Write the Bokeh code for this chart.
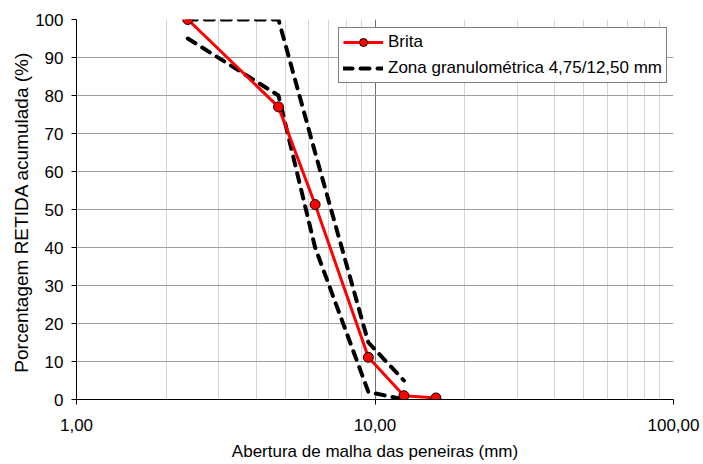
from bokeh.plotting import figure
from bokeh.models import Range1d, FixedTicker, Legend, LegendItem
from bokeh.embed import file_html
from bokeh.resources import INLINE

# ---- data ----
sieve_brita = [2.36, 4.75, 6.3, 9.5, 12.5, 16.0]
retida_brita = [100, 77, 51.3, 11.1, 1.0, 0.4]
zona_sieve = [2.36, 4.75, 6.3, 9.5, 12.5]
zona_sup = [100, 100, 65, 15, 5]
zona_inf = [95, 80, 40, 2, 0]
x_major_ticks = [1, 10, 100]
x_minor_ticks = [2, 3, 4, 5, 6, 7, 8, 9, 20, 30, 40, 50, 60, 70, 80, 90]
x_tick_labels = ["1,00", "10,00", "100,00"]
y_ticks = [0, 10, 20, 30, 40, 50, 60, 70, 80, 90, 100]
label_brita = "Brita"
label_zona = "Zona granulométrica 4,75/12,50 mm"
x_title = "Abertura de malha das peneiras (mm)"
y_title = "Porcentagem RETIDA acumulada  (%)"

FONT = "Liberation Sans"

p = figure(width=700, height=464, x_axis_type="log",
           x_range=Range1d(1, 100), y_range=Range1d(0, 100),
           output_backend="svg", toolbar_location=None,
           min_border_left=76, min_border_right=27,
           min_border_top=19, min_border_bottom=65)
p.outline_line_color = None
p.background_fill_color = "white"
p.border_fill_color = "white"

# axes
p.xaxis.ticker = FixedTicker(ticks=x_major_ticks, minor_ticks=x_minor_ticks)
p.xaxis.major_label_overrides = dict(zip(x_major_ticks, x_tick_labels))
p.yaxis.ticker = FixedTicker(ticks=y_ticks)
for ax in (p.xaxis[0], p.yaxis[0]):
    ax.axis_line_color = "black"
    ax.axis_line_width = 1
    ax.major_tick_line_color = "black"
    ax.major_tick_out = 5
    ax.major_tick_in = 0
    ax.minor_tick_line_color = None
    ax.major_label_text_font = FONT
    ax.major_label_text_font_size = "17px"
    ax.major_label_text_color = "black"
    ax.axis_label_text_font = FONT
    ax.axis_label_text_font_style = "normal"
    ax.axis_label_text_color = "black"
p.xaxis.major_label_standoff = 14
p.yaxis.major_label_standoff = 8
p.xaxis.axis_label = x_title
p.yaxis.axis_label = y_title
p.xaxis.axis_label_text_font_size = "17px"
p.yaxis.axis_label_text_font_size = "19px"
p.xaxis.axis_label_standoff = 8
p.yaxis.axis_label_standoff = 0

# grids
p.xgrid.grid_line_color = "#707070"
p.xgrid.grid_line_width = 1
p.xgrid.minor_grid_line_color = "#d4d4d4"
p.xgrid.minor_grid_line_width = 1
p.ygrid.grid_line_color = "#a0a0a0"
p.ygrid.grid_line_width = 1

# zone lines
z1 = p.line(zona_sieve, zona_sup, line_color="black", line_width=4,
            line_dash="9 8", line_cap="round")
z2 = p.line(zona_sieve, zona_inf, line_color="black", line_width=4,
            line_dash="9 8", line_cap="round")

# brita
b_line = p.line(sieve_brita, retida_brita, line_color="#ff0000", line_width=3)
b_pts = p.scatter(sieve_brita, retida_brita, marker="circle", size=10,
                  fill_color="#ff0000", line_color="black", line_width=1)

legend = Legend(items=[
    LegendItem(label=label_brita, renderers=[b_line, b_pts]),
    LegendItem(label=label_zona, renderers=[z1]),
], location=(262, 316))
legend.label_text_font = FONT
legend.label_text_font_size = "17px"
legend.label_text_color = "black"
legend.border_line_color = "black"
legend.border_line_width = 1
legend.background_fill_color = "white"
legend.background_fill_alpha = 1
legend.padding = 4
legend.margin = 0
legend.spacing = 6
legend.glyph_width = 40
legend.glyph_height = 20
legend.label_height = 20
legend.label_standoff = 5
p.add_layout(legend)

open("out.html", "w").write(file_html(p, INLINE))
